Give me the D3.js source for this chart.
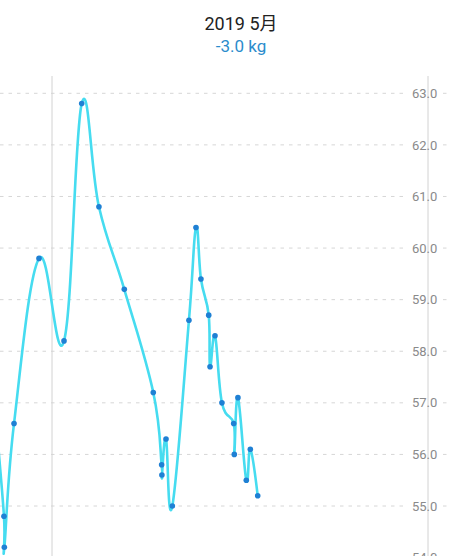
<!DOCTYPE html>
<html>
<head>
<meta charset="utf-8">
<script src="https://cdn.jsdelivr.net/npm/d3@7"></script>
<style>
  html, body { margin: 0; padding: 0; background: #fff; }
  svg { display: block; font-family: Roboto, "Noto Sans CJK SC", sans-serif; }
</style>
</head>
<body>
<svg id="chart" width="450" height="556"></svg>
<script>
// Day of May 2019 (fractional; 1.0 = May 1 00:00; values < 1 are late April)
const days = [-3.6, -2.96, -2.93, -2.13, -0.07, 1.99, 3.45, 4.87, 6.96, 9.35, 10.04, 10.06, 10.40, 10.92,
              12.29, 12.87, 13.28, 13.92, 14.03, 14.44, 15.01, 15.98, 16.03, 16.33, 17.02, 17.35, 17.96];
const weights = [56.6, 54.8, 54.2, 56.6, 59.8, 58.2, 62.8, 60.8, 59.2, 57.2, 55.8, 55.6, 56.3, 55.0,
                 58.6, 60.4, 59.4, 58.7, 57.7, 58.3, 57.0, 56.6, 56.0, 57.1, 55.5, 56.1, 55.2];
const yTicks = [54, 55, 56, 57, 58, 59, 60, 61, 62, 63];
const monthBoundaries = [1, 32];
const titleText = "2019 5月";
const changeText = "-3.0 kg";

const data = days.map((d, i) => ({ day: d, w: weights[i] }));

const svg = d3.select("#chart");
const W = 450, H = 556;

const x = d3.scaleLinear().domain([1, 32]).range([52, 428]);
const y = d3.scaleLinear().domain([55, 63]).range([506, 93.3]);

// Title
svg.append("text").attr("x", 241).attr("y", 30).attr("text-anchor", "middle")
  .attr("font-size", 18).attr("fill", "#222").text(titleText);
svg.append("text").attr("x", 241).attr("y", 52).attr("text-anchor", "middle")
  .attr("font-size", 17).attr("fill", "#2b8ccc").text(changeText);

// Gridlines (dashed), broken around the labels
const grid = svg.append("g");
yTicks.forEach(t => {
  const yy = y(t);
  [[0, 405], [443, W]].forEach(([a, b]) => {
    grid.append("line").attr("x1", a).attr("x2", b).attr("y1", yy).attr("y2", yy)
      .attr("stroke", "#d6d6d6").attr("stroke-width", 1).attr("stroke-dasharray", "3.5,5");
  });
});

// Vertical month boundary lines
monthBoundaries.forEach(d => {
  svg.append("line").attr("x1", x(d)).attr("x2", x(d)).attr("y1", 76).attr("y2", H)
    .attr("stroke", "#d2d2d2").attr("stroke-width", 1);
});

// Right axis labels
const axis = d3.axisRight(y).tickValues(yTicks).tickFormat(d3.format(".1f")).tickSize(0);
const ag = svg.append("g").attr("transform", "translate(412,0)").call(axis);
ag.select(".domain").remove();
ag.selectAll("text").attr("x", 0).attr("dx", 0).attr("text-anchor", "start")
  .attr("font-size", 13).attr("fill", "#8a8a8a").attr("font-family", "Roboto, sans-serif");

// Line (cubic, like MPAndroidChart intensity 0.2)
const line = d3.line().x(d => x(d.day)).y(d => y(d.w)).curve(d3.curveCardinal.tension(-0.2));
svg.append("path").datum(data).attr("d", line).attr("fill", "none")
  .attr("stroke", "#46dcf0").attr("stroke-width", 2.6).attr("stroke-linejoin", "round");

// Dots
svg.append("g").selectAll("circle").data(data).join("circle")
  .attr("cx", d => x(d.day)).attr("cy", d => y(d.w)).attr("r", 2.8)
  .attr("fill", "#1f80d4");
</script>
</body>
</html>
